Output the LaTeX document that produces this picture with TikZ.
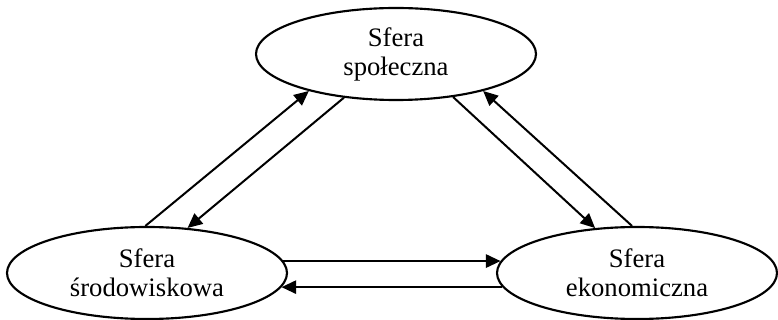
\documentclass[tikz,border=0pt]{standalone}
\usepackage{fontspec}
\setmainfont{Liberation Serif}
\usetikzlibrary{shapes.geometric,arrows.meta}
\tikzset{
    sfera/.style={ellipse, draw, line width=1.6pt, minimum width=210pt, minimum height=69pt,
        inner sep=0pt, align=center, font=\fontsize{20}{21.75}\selectfont},
    link/.style={-{Triangle[length=11pt,width=10pt]}, line width=1.5pt}
}
\begin{document}
\begin{tikzpicture}[x=0.75pt,y=-0.75pt]
\useasboundingbox (0,0) rectangle (778,320);
\node[sfera] at (396,54) (spol) {Sfera\\społeczna};
\node[sfera] at (147,273) (srod) {Sfera\\środowiskowa};
\node[sfera] at (637,273) (ekon) {Sfera\\ekonomiczna};

\draw [link] (srod.92) -- (spol.203);
\draw [link] (spol.220) -- (srod.48);

\draw [link] (spol.323) -- (ekon.133);
\draw [link] (ekon.96) -- (spol.337);

\draw [link] (srod.5) -- (ekon.175);
\draw [link] (ekon.186) -- (srod.354);
\end{tikzpicture}
\end{document}
